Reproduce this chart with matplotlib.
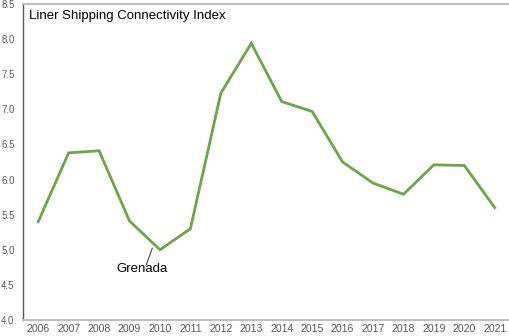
import matplotlib
matplotlib.use("Agg")
import matplotlib.pyplot as plt

years = ["2006", "2007", "2008", "2009", "2010", "2011", "2012", "2013",
         "2014", "2015", "2016", "2017", "2018", "2019", "2020", "2021"]
lsci = [5.40, 6.38, 6.41, 5.41, 5.00, 5.30, 7.23, 7.94,
        7.11, 6.97, 6.25, 5.95, 5.79, 6.21, 6.20, 5.60]
yticks = [4.0, 4.5, 5.0, 5.5, 6.0, 6.5, 7.0, 7.5, 8.0, 8.5]
title = "Liner Shipping Connectivity Index"
country = "Grenada"

plt.rcParams['font.family'] = ['Liberation Sans', 'DejaVu Sans']

W, H = 510, 336
fig = plt.figure(figsize=(W / 100, H / 100), dpi=100)
ax = fig.add_axes([23 / W, 16 / H, (W - 23) / W, (320 - 4) / H])

x = list(range(len(years)))
ax.plot(x, lsci, color="#6ea646", lw=2.0, solid_joinstyle="miter")

ax.set_xlim(-0.5, len(years) - 0.5)
ax.set_ylim(4.0, 8.5)
ax.set_xticks(x)
ax.set_xticklabels(years)
ax.set_yticks(yticks)
ax.set_yticklabels([f"{v:.1f}" for v in yticks])
ax.tick_params(axis="both", length=0, labelcolor="#595959")
ax.tick_params(axis="y", pad=6, labelsize=7)
ax.tick_params(axis="x", pad=3, labelsize=7.6)

ax.spines["left"].set_color("#595959")
ax.spines["left"].set_linewidth(1.0)
ax.spines["bottom"].set_color("#bfbfbf")
ax.spines["bottom"].set_linewidth(1.5)
ax.spines["top"].set_color("#bfbfbf")
ax.spines["top"].set_linewidth(1.5)
ax.spines["right"].set_visible(False)

ax.text(6 / (W - 23), 0.962, title, transform=ax.transAxes, fontsize=9.5,
        color="black", ha="left", va="center")

# country label with leader line
ax.text(3.42, 4.72, country, fontsize=9.5, ha="center", va="center",
        color="black")
ax.annotate("", xy=(3.75, 5.025), xytext=(3.55, 4.785),
            arrowprops=dict(arrowstyle="-", color="#404040", lw=0.8,
                            shrinkA=0, shrinkB=0))

fig.savefig("out.png", dpi=100)
